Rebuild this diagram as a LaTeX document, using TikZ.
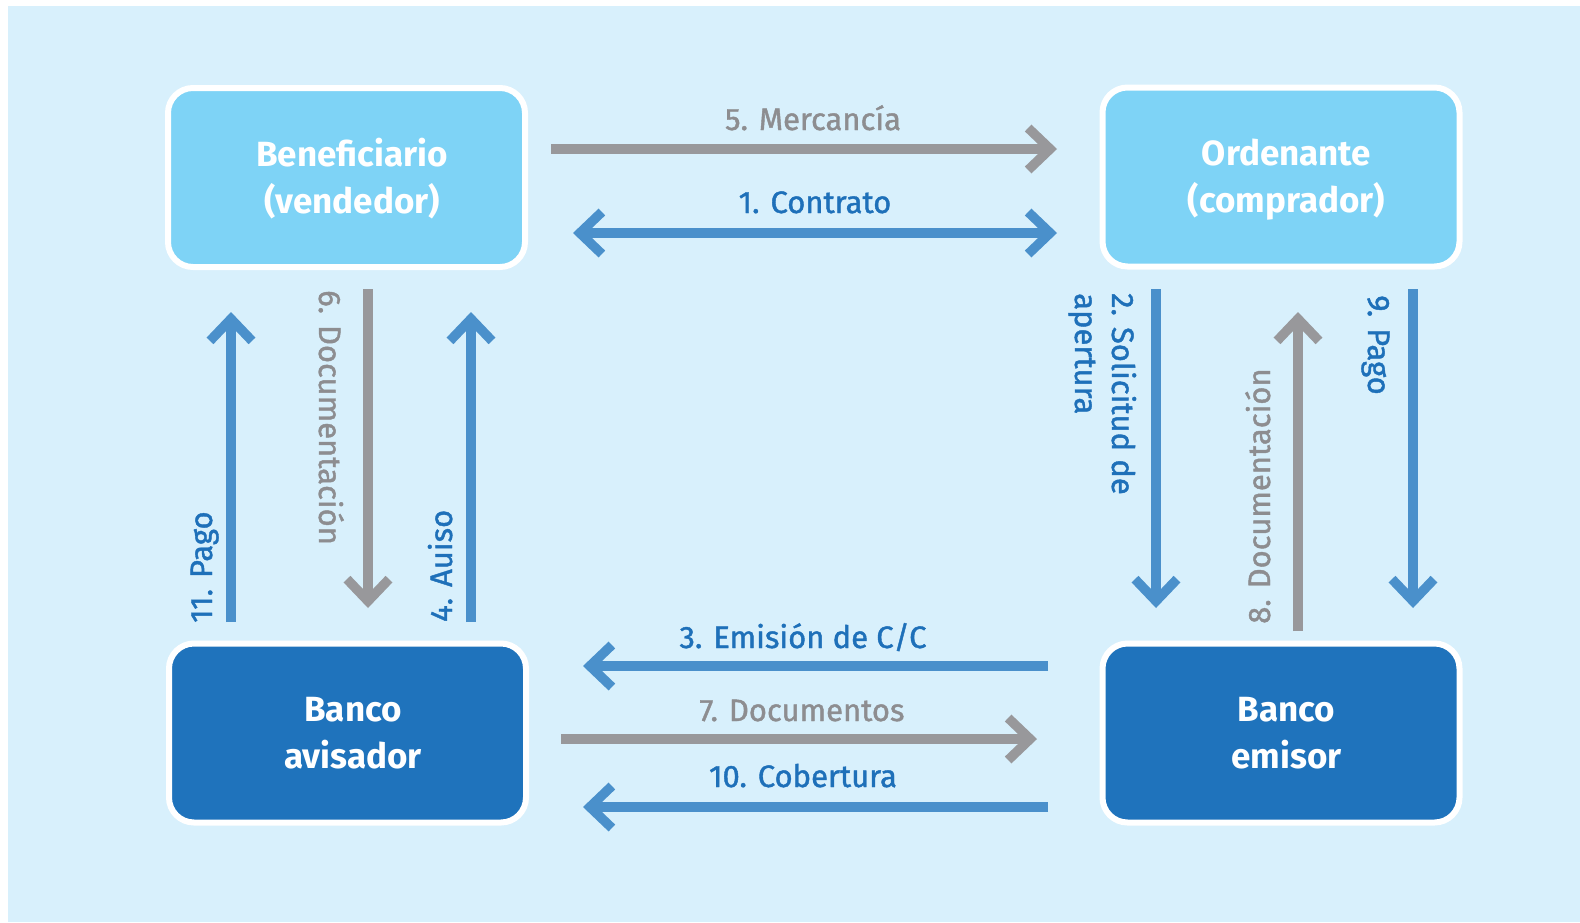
\documentclass[tikz,border=0pt]{standalone}
\usepackage{fontspec}
\setmainfont{Fira Sans}
\newfontfamily\labfont{Fira Sans}[FakeBold=1.3]
\usetikzlibrary{arrows.meta}
\definecolor{bgblue}{HTML}{D8F0FC}
\definecolor{lightbox}{HTML}{7ED3F6}
\definecolor{darkbox}{HTML}{1F73BC}
\definecolor{arrowblue}{HTML}{4A90CB}
\definecolor{arrowgray}{HTML}{98989B}
\definecolor{labelblue}{HTML}{1E70B9}
\definecolor{labelgray}{HTML}{8D8D90}
\newcommand\bxl[1]{\hspace*{11pt}#1}
\tikzset{
  box/.style={rounded corners=25pt, draw=white, line width=6pt,
    minimum width=357pt, minimum height=179pt, outer sep=0pt, inner sep=0pt,
    align=center, text=white, text height=80pt, text depth=9pt,
    font=\bfseries\fontsize{35}{47}\selectfont},
  barb/.tip={Straight Barb[length=22pt,width=42pt,line width=9.5pt]},
  bluearrow/.style={draw=arrowblue, line width=9.5pt, -barb},
  grayarrow/.style={draw=arrowgray, line width=9.5pt, -barb},
  lab/.style={inner sep=0pt, font=\labfont\fontsize{31}{37}\selectfont},
  blab/.style={lab, text=labelblue},
  glab/.style={lab, text=labelgray},
}
\begin{document}
\begin{tikzpicture}[x=1pt,y=-1pt]
\useasboundingbox (0,0) rectangle (1580,922);
\fill[white] (0,0) rectangle (1580,922);
\fill[bgblue] (8,6) rectangle (1580,922);

% boxes
\node[box, fill=lightbox] (ben) at (346.5,177.5) {\bxl{Beneficiario}\\\bxl{(vendedor)}};
\node[box, fill=lightbox] (ord) at (1281,177) {\bxl{Ordenante}\\\bxl{(comprador)}};
\node[box, fill=darkbox] (bav) at (347.5,733) {\bxl{Banco}\\\bxl{avisador}};
\node[box, fill=darkbox] (bem) at (1281,733) {\bxl{Banco}\\\bxl{emisor}};

% arrow end points
\coordinate (m1) at (551,149);   \coordinate (m2) at (1057,149);
\coordinate (c1) at (573,233);   \coordinate (c2) at (1057,233);
\coordinate (p11a) at (231,622); \coordinate (p11b) at (231,312);
\coordinate (d6a) at (368,289);  \coordinate (d6b) at (368,608);
\coordinate (a4a) at (471,622);  \coordinate (a4b) at (471,312);
\coordinate (s2a) at (1156,289); \coordinate (s2b) at (1156,608);
\coordinate (d8a) at (1298,631); \coordinate (d8b) at (1298,312);
\coordinate (p9a) at (1413,289); \coordinate (p9b) at (1413,608);
\coordinate (e3a) at (1048,666); \coordinate (e3b) at (583,666);
\coordinate (d7a) at (561,739);  \coordinate (d7b) at (1037,739);
\coordinate (c10a) at (1048,807); \coordinate (c10b) at (583,807);

% arrows
\draw[grayarrow] (m1) -- (m2);
\draw[bluearrow, barb-barb] (c1) -- (c2);
\draw[bluearrow] (p11a) -- (p11b);
\draw[grayarrow] (d6a) -- (d6b);
\draw[bluearrow] (a4a) -- (a4b);
\draw[bluearrow] (s2a) -- (s2b);
\draw[grayarrow] (d8a) -- (d8b);
\draw[bluearrow] (p9a) -- (p9b);
\draw[bluearrow] (e3a) -- (e3b);
\draw[grayarrow] (d7a) -- (d7b);
\draw[bluearrow] (c10a) -- (c10b);

% labels
\node[glab, anchor=base] (l5) at (813,130) {5. Mercancía};
\node[blab, anchor=base] (l1) at (815,213) {1. Contrato};
\node[blab, anchor=base] (l3) at (803,648) {3. Emisión de C/C};
\node[glab, anchor=base] (l7) at (802,721) {7. Documentos};
\node[blab, anchor=base] (l10) at (803,787) {10. Cobertura};

\node[blab, rotate=90, anchor=base west] (l11) at (212,623) {11. Pago};
\node[glab, rotate=-90, anchor=base west] (l6) at (319,290) {6. Documentación};
\node[blab, rotate=90, anchor=base west] (l4) at (452,622) {4. Auiso};
\node[blab, rotate=-90, anchor=base west, align=left] (l2) at (1075,293) {2. Solicitud de\\apertura};
\node[glab, rotate=90, anchor=base west] (l8) at (1270,624) {8. Documentación};
\node[blab, rotate=-90, anchor=base west] (l9) at (1368,295) {9. Pago};
\end{tikzpicture}
\end{document}
